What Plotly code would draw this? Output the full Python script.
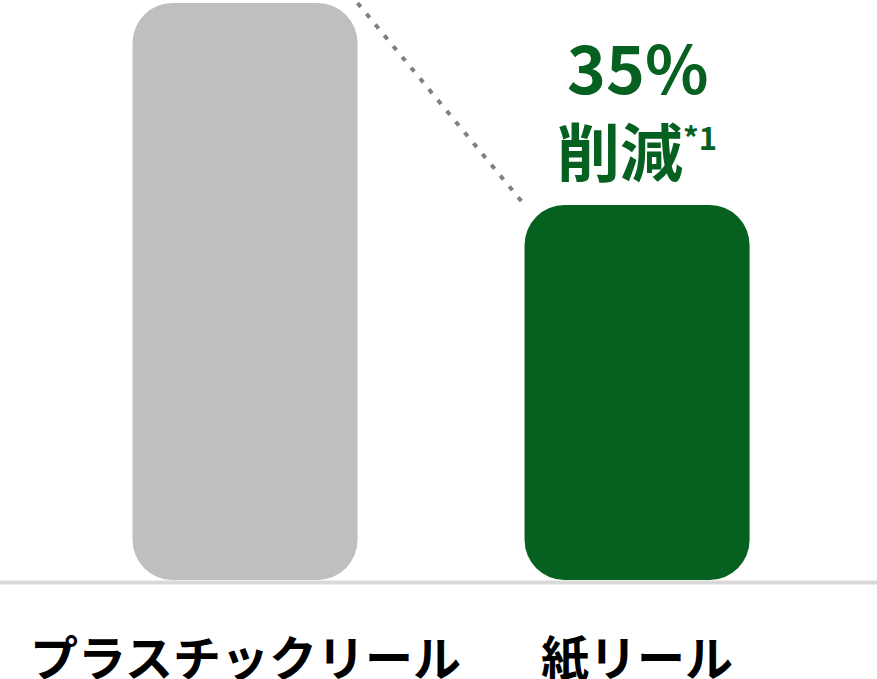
import plotly.graph_objects as go

# データ
categories = ["プラスチックリール", "紙リール"]
values = [100, 65]
bar_colors = ["#bfbfbf", "#06601f"]
reduction_label = "35%"
reduction_note = "削減"
note_mark = "*1"

FONT = "Noto Sans CJK JP"
GREEN = "#06601f"
BAR_W = 0.574

x_pos = list(range(len(categories)))

fig = go.Figure()

# base を指定すると上下両端が角丸になる
fig.add_trace(go.Bar(
    x=x_pos, base=[0] * len(values), y=values,
    width=BAR_W, marker=dict(color=bar_colors, line=dict(width=0)),
    hoverinfo="skip", showlegend=False
))

# 棒の上端どうしを結ぶ点線
fig.add_trace(go.Scatter(
    x=[x_pos[0] + BAR_W / 2, x_pos[1] - BAR_W / 2],
    y=[values[0], values[1]],
    mode="lines",
    line=dict(color="#808080", width=4, dash="5px,9px"),
    hoverinfo="skip", showlegend=False
))

# 基準線
fig.add_shape(
    type="line", xref="paper", yref="y",
    x0=0, x1=1, y0=-0.45, y1=-0.45,
    line=dict(color="#d9d9d9", width=4), layer="below"
)

# カテゴリラベル
for i, name in enumerate(categories):
    fig.add_annotation(
        x=x_pos[i], y=-13.0, text=name, showarrow=False,
        xanchor="center", yanchor="middle",
        font=dict(family=FONT, size=48, color="#000000", weight="bold")
    )

# 削減率
fig.add_annotation(
    x=x_pos[1], y=89.3, text=reduction_label, showarrow=False,
    xanchor="center", yanchor="middle",
    font=dict(family=FONT, size=66, color=GREEN, weight="bold")
)
fig.add_annotation(
    x=x_pos[1], y=74.8,
    text=f'{reduction_note}<sup><span style="font-size:31px">{note_mark}</span></sup>',
    showarrow=False, xanchor="center", yanchor="middle",
    font=dict(family=FONT, size=63, color=GREEN, weight="bold")
)

fig.update_layout(
    width=877, height=679,
    margin=dict(l=0, r=0, t=0, b=0),
    paper_bgcolor="white", plot_bgcolor="white",
    barmode="overlay", barcornerradius=40,
    xaxis=dict(range=[-0.625, 1.612], visible=False, fixedrange=True),
    yaxis=dict(range=[-17.16, 100.52], visible=False, fixedrange=True),
)

fig.write_html(
    "out.html",
    config={"displayModeBar": False},
    post_script="document.body.style.margin='0';",
)
